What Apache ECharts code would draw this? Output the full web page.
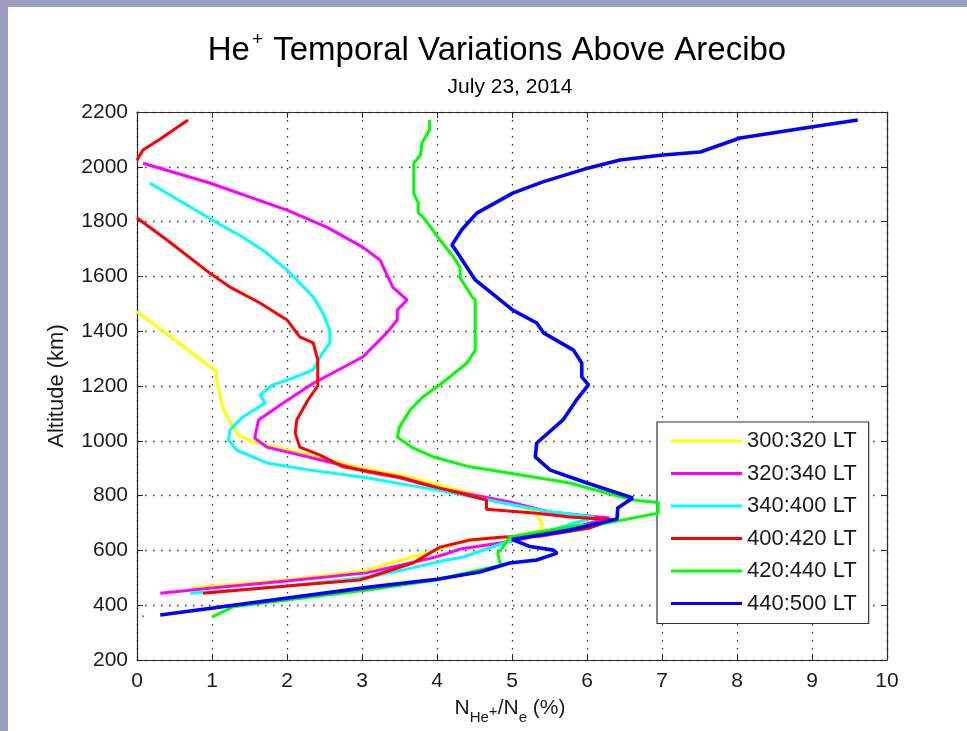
<!DOCTYPE html>
<html>
<head>
<meta charset="utf-8">
<script src="https://cdn.jsdelivr.net/npm/echarts@6/dist/echarts.min.js"></script>
<style>
html,body{margin:0;padding:0;background:#fff;}
#chart{width:967px;height:731px;}
</style>
</head>
<body>
<div id="chart"></div>
<script>
// Series names
const seriesNames = ['300:320 LT', '320:340 LT', '340:400 LT', '400:420 LT', '420:440 LT', '440:500 LT'];
// Axis ticks
const xTicks = [0, 1, 2, 3, 4, 5, 6, 7, 8, 9, 10];
const yTicks = [200, 400, 600, 800, 1000, 1200, 1400, 1600, 1800, 2000, 2200];

// [ratio %, altitude km]
const s300_320 = [[0.0,1471],[0.4,1390],[0.8,1307],[1.06,1252],[1.06,1230],[1.08,1200],[1.14,1123],[1.26,1058],[1.35,1021],[1.55,996],[2.2,955],[3.0,900],[3.5,875],[4.0,840],[4.5,805],[4.95,775],[5.3,740],[5.4,700],[5.4,674],[5.0,649],[4.44,638],[4.2,622],[3.93,594],[3.4,556],[3.0,524],[2.0,493],[1.6,484],[1.0,470],[0.72,462]];
const s320_340 = [[0.08,2013],[0.97,1941],[2.0,1842],[2.53,1780],[3.01,1707],[3.24,1660],[3.41,1561],[3.6,1514],[3.47,1477],[3.47,1441],[3.33,1394],[3.01,1306],[2.35,1210],[1.95,1138],[1.62,1076],[1.57,1010],[1.73,977],[2.62,919],[3.1,885],[3.5,865],[4.0,828],[4.97,777],[5.5,740],[5.77,733],[6.3,718],[5.6,668],[5.1,640],[4.84,627],[4.31,605],[4.13,588],[3.9,570],[3.06,518],[2.0,488],[1.0,463],[0.31,444]];
const s340_400 = [[0.17,1941],[0.71,1853],[1.07,1795],[1.41,1744],[1.73,1685],[2.0,1623],[2.17,1576],[2.35,1525],[2.48,1466],[2.57,1404],[2.57,1357],[2.44,1306],[2.35,1259],[2.04,1225],[1.81,1204],[1.64,1167],[1.71,1138],[1.41,1087],[1.24,1039],[1.22,1003],[1.33,966],[1.73,919],[2.31,893],[3.06,865],[4.0,820],[4.57,790],[5.41,745],[6.1,722],[5.6,680],[5.01,638],[4.35,576],[4.13,565],[3.55,529],[3.1,503],[2.0,470],[0.71,444]];
const s400_420a = [[0.68,2171],[0.3,2100],[0.08,2061],[0.0,2025]];
const s400_420 = [[0.0,1813],[0.4,1733],[0.97,1612],[1.24,1561],[1.64,1503],[2.0,1441],[2.17,1379],[2.35,1357],[2.41,1295],[2.41,1200],[2.28,1149],[2.13,1076],[2.11,1028],[2.17,977],[2.44,948],[2.75,905],[3.5,868],[4.0,830],[4.66,784],[4.66,750],[5.33,736],[5.77,722],[6.35,712],[6.04,682],[5.37,652],[4.88,649],[4.44,638],[4.04,612],[3.68,554],[3.1,503],[2.97,492],[2.0,470],[0.88,444]];
const s400_420dot = [[0.08,360]];
const s420_440 = [[3.9,2171],[3.9,2134],[3.8,2087],[3.78,2043],[3.69,2013],[3.69,1904],[3.75,1868],[3.75,1831],[3.81,1818],[4.04,1733],[4.22,1671],[4.31,1631],[4.31,1594],[4.47,1525],[4.51,1514],[4.51,1331],[4.4,1284],[4.17,1233],[4.0,1197],[3.81,1160],[3.64,1112],[3.5,1050],[3.47,1014],[3.68,974],[3.95,941],[4.44,905],[5.1,876],[5.77,846],[6.61,784],[6.95,775],[6.95,736],[6.27,700],[5.77,686],[4.97,649],[4.88,612],[4.81,590],[4.84,554],[4.88,547],[4.44,521],[4.0,492],[3.1,456],[1.28,394],[1.0,357]];
const s440_500 = [[9.61,2171],[9.01,2146],[8.04,2105],[7.51,2054],[7.01,2043],[6.44,2025],[6.02,1996],[5.41,1945],[5.01,1904],[4.53,1831],[4.33,1770],[4.2,1715],[4.31,1671],[4.51,1587],[5.01,1477],[5.33,1430],[5.42,1394],[5.82,1331],[5.93,1284],[5.93,1233],[6.02,1204],[5.86,1149],[5.68,1076],[5.33,992],[5.31,941],[5.51,893],[6.0,846],[6.61,791],[6.41,755],[6.4,715],[5.77,674],[5.0,640],[5.24,614],[5.55,601],[5.6,590],[5.33,565],[4.97,554],[4.57,521],[4.0,495],[3.1,466],[0.31,364]];

const colors = ['#ffff00', '#ff00ff', '#00ffff', '#ff0000', '#00ff00', '#0000ff'];
const FONT = '"Liberation Sans", Arial, Helvetica, sans-serif';
const TXT = '#1a1a1a';
const AX = '#2a2a2a';

const chart = echarts.init(document.getElementById('chart'), null, {renderer: 'canvas'});

function lineSeries(name, data, color, width, xi) {
  return {
    name: name, type: 'line', data: data, xAxisIndex: 0, yAxisIndex: 0,
    showSymbol: false, symbol: 'none', animation: false, silent: true,
    lineStyle: {color: color, width: width}, itemStyle: {color: color},
    z: 3 + xi
  };
}

const axisCommon = {
  axisLine: {show: true, onZero: false, lineStyle: {color: AX, width: 1.2}},
  axisTick: {show: true, inside: true, length: 6, lineStyle: {color: AX, width: 1}},
};
const plain = v => String(v);

const option = {
  animation: false,
  backgroundColor: '#ffffff',
  grid: {left: 137, right: 80, top: 112, bottom: 71, containLabel: false},
  legend: {
    data: seriesNames,
    orient: 'vertical',
    left: 657, top: 422,
    padding: [8, 12, 9, 14],
    backgroundColor: '#ffffff',
    borderColor: '#333333', borderWidth: 1.2,
    borderRadius: 0,
    itemWidth: 71, itemHeight: 3, itemGap: 10.5,
    icon: 'rect',
    selectedMode: false,
    textStyle: {fontSize: 22, lineHeight: 22, color: TXT, fontFamily: FONT}
  },
  xAxis: [
    Object.assign({}, axisCommon, {
      type: 'value', min: xTicks[0], max: xTicks[xTicks.length - 1], interval: 1, position: 'bottom',
      axisLabel: {fontSize: 21, color: TXT, fontFamily: FONT, margin: 11, formatter: plain},
      splitLine: {show: true, lineStyle: {color: '#333', width: 1.3, type: [1.5, 6.5]}}
    }),
    Object.assign({}, axisCommon, {
      type: 'value', min: xTicks[0], max: xTicks[xTicks.length - 1], interval: 1, position: 'top',
      axisLabel: {show: false}, splitLine: {show: false}
    })
  ],
  yAxis: [
    Object.assign({}, axisCommon, {
      type: 'value', min: yTicks[0], max: yTicks[yTicks.length - 1], interval: 200, position: 'left',
      axisLabel: {fontSize: 21, color: TXT, fontFamily: FONT, margin: 9, formatter: plain},
      splitLine: {show: true, lineStyle: {color: '#333', width: 1.3, type: [1.5, 6.5]}}
    }),
    Object.assign({}, axisCommon, {
      type: 'value', min: yTicks[0], max: yTicks[yTicks.length - 1], interval: 200, position: 'right',
      axisLabel: {show: false}, splitLine: {show: false}
    })
  ],
  series: [
    lineSeries(seriesNames[0], s300_320, colors[0], 3, 0),
    lineSeries(seriesNames[1], s320_340, colors[1], 3, 1),
    lineSeries(seriesNames[2], s340_400, colors[2], 3, 2),
    lineSeries(seriesNames[3], s400_420, colors[3], 3, 3),
    lineSeries('red-top', s400_420a, colors[3], 3, 3),
    {name: 'red-dot', type: 'scatter', data: s400_420dot, symbolSize: 2, itemStyle: {color: colors[3]}, silent: true, z: 6},
    lineSeries(seriesNames[4], s420_440, colors[4], 3, 4),
    lineSeries(seriesNames[5], s440_500, colors[5], 3.6, 5)
  ],
  graphic: [
    {type: 'rect', left: 0, top: 0, shape: {width: 967, height: 7}, style: {fill: '#9d9dc0'}, z: 100, silent: true},
    {type: 'rect', left: 0, top: 0, shape: {width: 8, height: 731}, style: {fill: '#9d9dc0'}, z: 100, silent: true},
    {type: 'text', x: 497, y: 49, z: 100, silent: true,
      style: {text: '{t|He}{s|+}{t| Temporal Variations Above Arecibo}', align: 'center', verticalAlign: 'middle',
        fill: '#000', fontFamily: FONT,
        rich: {
          t: {fontSize: 33, fontFamily: FONT, fill: '#000', lineHeight: 38, verticalAlign: 'top', padding: [4, 0, 0, 0]},
          s: {fontSize: 19, fontFamily: FONT, fill: '#000', lineHeight: 20, verticalAlign: 'top', padding: [0, 1, 0, 2]}
        }}},
    {type: 'text', x: 510, y: 87, z: 100, silent: true,
      style: {text: 'July 23, 2014', align: 'center', verticalAlign: 'middle', fontSize: 21, fontFamily: FONT, fill: '#000'}},
    {type: 'text', x: 57, y: 386, rotation: Math.PI / 2, z: 100, silent: true,
      style: {text: 'Altitude (km)', align: 'center', verticalAlign: 'middle', fontSize: 22, fontFamily: FONT, fill: TXT}},
    {type: 'text', x: 510, y: 710, z: 100, silent: true,
      style: {text: '{n|N}{b|He}{p|+}{n|/N}{b|e}{n| (%)}', align: 'center', verticalAlign: 'middle', fill: TXT, fontFamily: FONT,
        rich: {
          n: {fontSize: 21, fontFamily: FONT, fill: TXT, lineHeight: 24, verticalAlign: 'top'},
          b: {fontSize: 15, fontFamily: FONT, fill: TXT, lineHeight: 16, verticalAlign: 'top', padding: [12, 0, 0, 0]},
          p: {fontSize: 15, fontFamily: FONT, fill: TXT, lineHeight: 16, verticalAlign: 'top', padding: [6, 0, 0, 0]}
        }}}
  ]
};
chart.setOption(option);
</script>
</body>
</html>
